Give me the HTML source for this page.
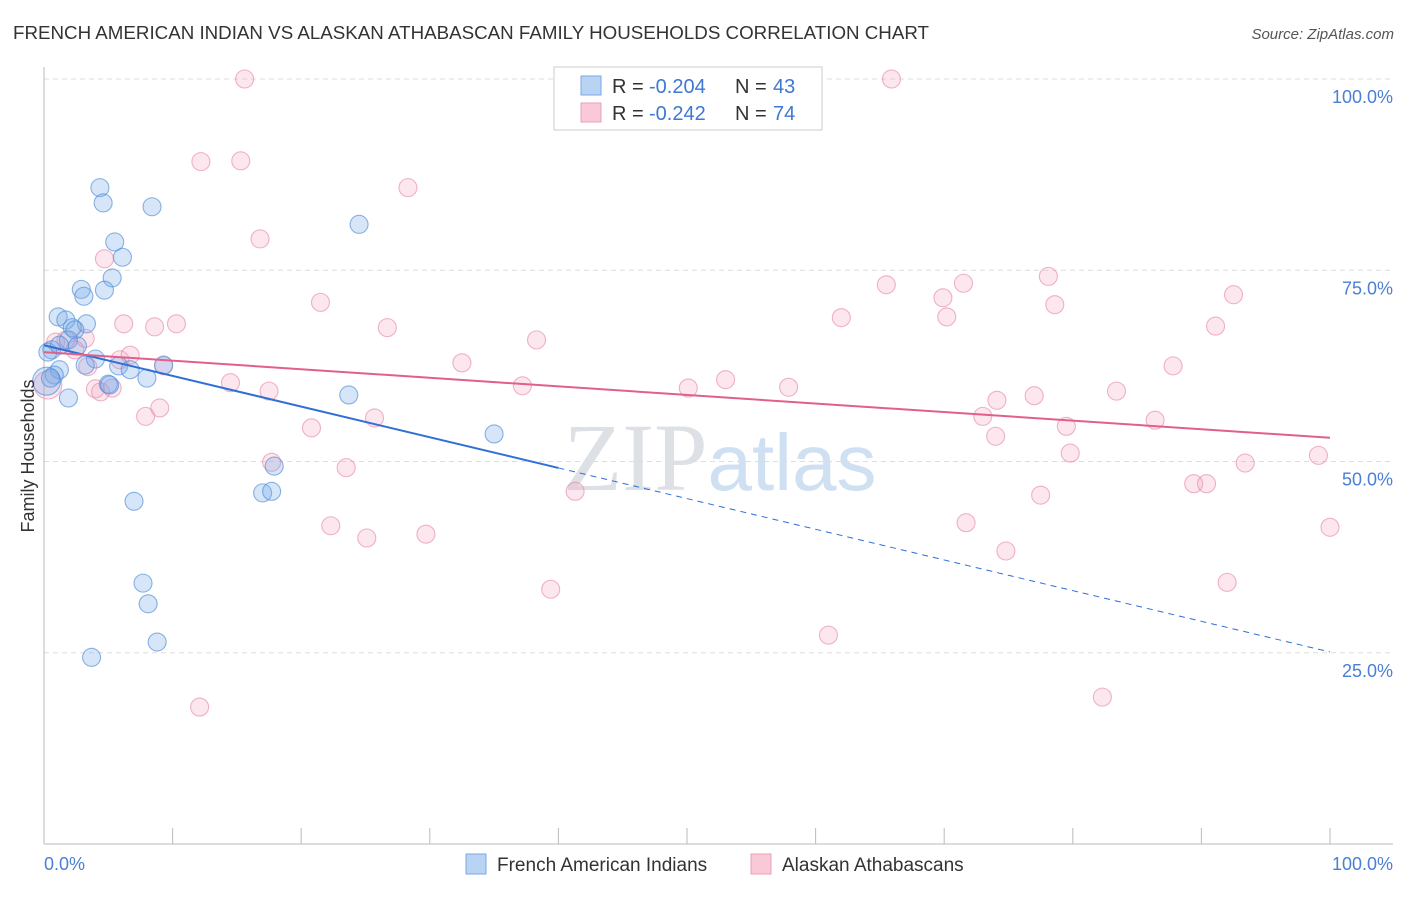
<!DOCTYPE html>
<html><head><meta charset="utf-8"><style>
body{margin:0;background:#fff;font-family:"Liberation Sans",sans-serif;}
svg text{font-family:"Liberation Sans",sans-serif;}
</style></head><body>
<svg id="chart" width="1406" height="892" xmlns="http://www.w3.org/2000/svg">
<text x="13" y="39" font-size="18.5" fill="#333" textLength="916" lengthAdjust="spacingAndGlyphs">FRENCH AMERICAN INDIAN VS ALASKAN ATHABASCAN FAMILY HOUSEHOLDS CORRELATION CHART</text>
<text x="1394" y="39" font-size="15" fill="#555" text-anchor="end" font-style="italic">Source: ZipAtlas.com</text>
<text x="720" y="490" font-size="96" text-anchor="middle" fill="#e3e8ef"><tspan font-family="Liberation Serif" fill="#dde1e6">ZIP</tspan><tspan fill="#cfe0f2" font-size="80">atlas</tspan></text>
<g id="grid"></g>
<g id="marks"></g>
<text transform="translate(34,456) rotate(-90)" font-size="18" fill="#333" text-anchor="middle">Family Households</text>
<text x="44" y="870" font-size="18" fill="#4a7fd4">0.0%</text>
<text x="1393" y="870" font-size="18" fill="#4a7fd4" text-anchor="end">100.0%</text>
<g>
<rect x="554" y="67" width="268" height="63" fill="#fff" stroke="#ccc"/>
<rect x="581" y="76" width="20" height="19" fill="#b9d3f3" stroke="#7aa9e6"/>
<rect x="581" y="103" width="20" height="19" fill="#f9c9d8" stroke="#eba0ba"/>
<text x="612" y="93" font-size="20" fill="#333">R =</text>
<text x="649" y="93" font-size="20" fill="#3e78d1">-0.204</text>
<text x="735" y="93" font-size="20" fill="#333">N =</text>
<text x="773" y="93" font-size="20" fill="#3e78d1">43</text>
<text x="612" y="120" font-size="20" fill="#333">R =</text>
<text x="649" y="120" font-size="20" fill="#3e78d1">-0.242</text>
<text x="735" y="120" font-size="20" fill="#333">N =</text>
<text x="773" y="120" font-size="20" fill="#3e78d1">74</text>
</g>
<g>
<rect x="466" y="854" width="20" height="20" fill="#b9d3f3" stroke="#7aa9e6"/>
<text x="497" y="871" font-size="19" fill="#333">French American Indians</text>
<rect x="751" y="854" width="20" height="20" fill="#f9c9d8" stroke="#eba0ba"/>
<text x="782" y="871" font-size="19" fill="#333">Alaskan Athabascans</text>
</g>
</svg>
<script>
const yTicks=[25,50,75,100];
const yTickLabels=["25.0%","50.0%","75.0%","100.0%"];
const xTicks=[0,10,20,30,40,50,60,70,80,90,100];
const blueX=[4.35,4.6,8.4,24.5,5.5,6.1,5.3,2.9,3.1,4.7,1.1,1.7,3.3,2.2,2.4,1.9,2.6,0.6,0.3,4.0,3.2,1.2,0.8,5.8,8.0,9.3,1.9,5.0,23.7,35.0,7.0,17.0,17.7,17.9,7.7,8.1,8.8,3.7,0.2,0.5,1.2,6.7,5.1];
const blueY=[85.8,83.8,83.3,81.0,78.7,76.7,74.0,72.5,71.6,72.4,68.9,68.5,68.0,67.5,67.2,65.9,65.1,64.6,64.3,63.4,62.6,62.0,61.3,62.5,60.9,62.6,58.3,60.1,58.7,53.6,44.8,45.9,46.1,49.4,34.1,31.4,26.4,24.4,60.5,60.9,65.2,62.0,60.0];
const pinkX=[15.6,65.9,12.2,15.3,28.3,16.8,4.7,21.5,26.7,38.3,8.6,6.2,10.3,1.7,3.2,0.9,2.4,5.9,6.7,9.3,32.5,14.5,17.5,4.0,4.4,5.3,37.2,50.1,53.0,57.9,65.5,71.5,69.9,70.2,78.1,78.6,92.5,91.1,62.0,87.8,83.4,77.0,74.1,73.0,74.0,86.4,79.5,79.8,93.4,99.1,89.4,90.4,77.5,71.7,100,74.8,92.0,61.0,82.3,12.1,41.3,39.4,29.7,25.1,22.3,23.5,17.7,20.8,25.7,9.0,7.9,0.3,3.4];
const pinkY=[100,100,89.2,89.3,85.8,79.1,76.5,70.8,67.5,65.9,67.6,68.0,68.0,65.9,66.1,65.6,64.6,63.3,63.9,62.5,62.9,60.3,59.2,59.5,59.1,59.6,59.9,59.6,60.7,59.7,73.1,73.3,71.4,68.9,74.2,70.5,71.8,67.7,68.8,62.5,59.2,58.6,58.0,55.9,53.3,55.4,54.6,51.1,49.8,50.8,47.1,47.1,45.6,42.0,41.4,38.3,34.2,27.3,19.2,17.9,46.1,33.3,40.5,40.0,41.6,49.2,49.9,54.4,55.7,57.0,55.9,60.0,62.4];
const blueTrend=[65.2,25.1];
const pinkTrend=[64.3,53.1];
const blueSolidEnd=40;
const NS="http://www.w3.org/2000/svg";
const X=v=>44+v*12.86, Y=v=>844-v*7.65;
function mk(t,a,p){const e=document.createElementNS(NS,t);for(const k in a)e.setAttribute(k,a[k]);p.appendChild(e);return e;}
const grid=document.getElementById('grid'), marks=document.getElementById('marks'), svg=document.getElementById('chart');
yTicks.forEach((t,i)=>{
 const l=mk('line',{x1:44,x2:1393,y1:Y(t),y2:Y(t),stroke:'#ddd','stroke-dasharray':'5,4'},grid);
 
 
 const tx=mk('text',{x:1393,y:Y(t)+24,'font-size':18,fill:'#4a7fd4','text-anchor':'end'},svg);
 tx.textContent=yTickLabels[i];
 
 
});
const ax=mk('line',{x1:44,x2:44,y1:67,y2:844,stroke:'#bbb'},grid);


const bx=mk('line',{x1:44,x2:1393,y1:844,y2:844,stroke:'#bbb'},grid);


xTicks.forEach(t=>{
 const l=mk('line',{x1:X(t),x2:X(t),y1:828,y2:844,stroke:'#bbb'},grid);
 
 
});
function pts(xs,ys,fill,stroke,name){
 xs.forEach((x,i)=>{
  const big=(x<0.5&&ys[i]>59.5&&ys[i]<61);
  const c=mk('circle',{cx:X(x),cy:Y(ys[i]),r:big?14:9,fill:fill,stroke:stroke,'stroke-width':1.1},marks);
  
  
 });
}
pts(pinkX,pinkY,'rgba(242,160,188,0.25)','rgba(230,130,165,0.6)','alaskan-point');
pts(blueX,blueY,'rgba(120,170,232,0.3)','rgba(80,140,215,0.65)','french-point');
const bAt=v=>blueTrend[0]+(blueTrend[1]-blueTrend[0])*v/100;
const b1=mk('line',{x1:X(0),y1:Y(bAt(0)),x2:X(blueSolidEnd),y2:Y(bAt(blueSolidEnd)),stroke:'#2f6fd6','stroke-width':2},marks);


const b2=mk('line',{x1:X(blueSolidEnd),y1:Y(bAt(blueSolidEnd)),x2:X(100),y2:Y(bAt(100)),stroke:'#2f6fd6','stroke-width':1,'stroke-dasharray':'6,5'},marks);


const p1=mk('line',{x1:X(0),y1:Y(pinkTrend[0]),x2:X(100),y2:Y(pinkTrend[1]),stroke:'#e0608c','stroke-width':2},marks);


</script>
</body></html>
